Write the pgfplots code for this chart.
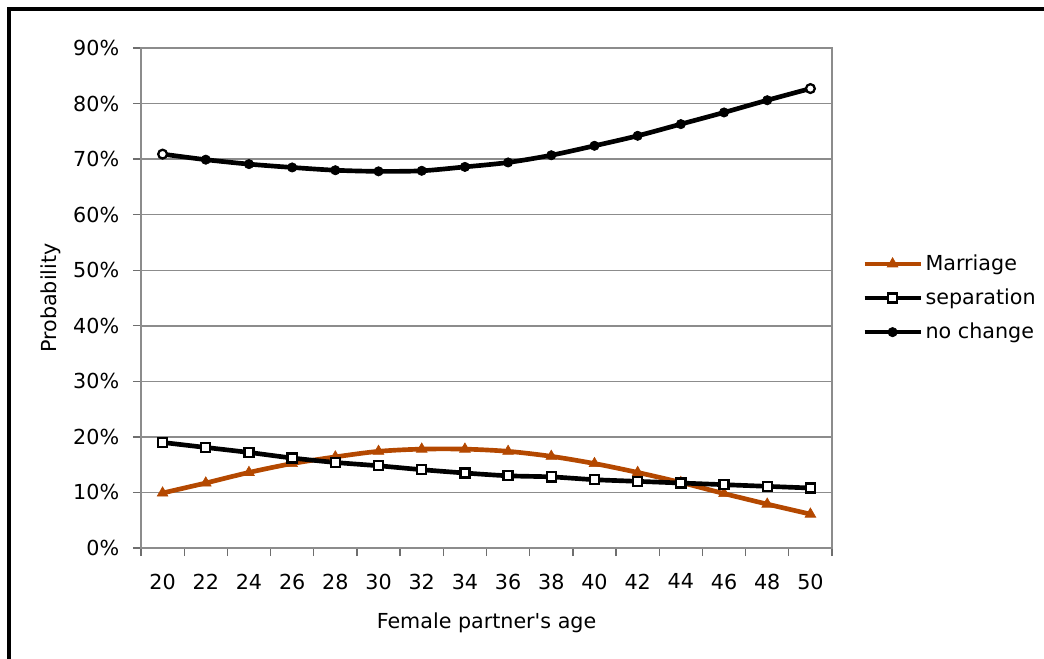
\documentclass[border=0pt]{standalone}
\usepackage{fontspec}
\setmainfont{DejaVu Sans}[Ligatures=TeXOff]
\usepackage{pgfplots}
\pgfplotsset{compat=1.18}
\definecolor{marr}{RGB}{180,72,0}
\definecolor{gridc}{RGB}{140,140,140}
\definecolor{axc}{RGB}{110,110,110}
\newcommand{\fs}{\fontsize{15.5pt}{18pt}\selectfont}
\begin{document}
\fs
\begin{tikzpicture}
\useasboundingbox (-105.75pt,-82.5pt) rectangle (677.25pt,411pt);
\draw[line width=2.4pt] (-99pt,-100pt) -- (-99pt,404.25pt) -- (700pt,404.25pt);
\begin{axis}[
  at={(0,0)}, anchor=south west,
  width=518.25pt, height=375pt, scale only axis,
  xmin=19, xmax=51, ymin=0, ymax=90,
  xtick={20,22,...,50},
  minor xtick={19,21,...,51},
  ytick={0,10,...,90},
  yticklabel={\pgfmathprintnumber{\tick}\%},
  /pgf/number format/assume math mode=true,
  ymajorgrids, grid style={gridc, line width=1.1pt},
  xtick pos=left, ytick pos=left,
  tick align=outside,
  major x tick style={draw=none},
  minor tick length=6pt, major tick length=6pt,
  tick style={axc, line width=1pt},
  axis line style={gridc, line width=1.8pt},
  y tick label style={xshift=-5pt, font=\fs},
  x tick label style={yshift=-8pt, font=\fs},
  xlabel={Female partner's age},
  ylabel={Probability},
  xlabel style={at={(axis description cs:0.5,-0.1493)}, anchor=center, font=\fs},
  ylabel style={at={(axis description cs:-0.1312,0.5)}, anchor=center, rotate=0, font=\fs},
  legend style={draw=none, fill=none, at={(1.0434,0.5)}, anchor=west, inner sep=0pt, row sep=7.5pt, font=\fs},
  legend cell align=left,
  legend image code/.code={\draw[mark repeat=2,mark phase=2,#1] plot coordinates {(0pt,0pt) (21pt,0pt) (42pt,0pt)};},
]
\addplot[marr, line width=3.5pt, smooth, mark=triangle*, mark size=4.6pt, mark options={solid, line width=0.5pt}] coordinates {
(20,9.9) (22,11.7) (24,13.6) (26,15.2) (28,16.4) (30,17.4) (32,17.8) (34,17.8) (36,17.4) (38,16.5) (40,15.2) (42,13.6) (44,11.8) (46,9.8) (48,7.9) (50,6.1)};
\addlegendentry{Marriage}
\addplot[black, line width=3.5pt, smooth, mark=square*, mark size=3.4pt, mark options={solid, fill=white, draw=black, line width=1.7pt}] coordinates {
(20,19.0) (22,18.1) (24,17.2) (26,16.2) (28,15.4) (30,14.8) (32,14.1) (34,13.5) (36,13.0) (38,12.8) (40,12.3) (42,12.0) (44,11.7) (46,11.4) (48,11.1) (50,10.8)};
\addlegendentry{separation}
\addplot[black, line width=3.5pt, smooth, mark=*, mark size=3.5pt, mark options={solid, fill=black, line width=0.5pt}] coordinates {
(20,70.9) (22,69.9) (24,69.1) (26,68.5) (28,68.0) (30,67.8) (32,67.9) (34,68.6) (36,69.4) (38,70.7) (40,72.4) (42,74.2) (44,76.3) (46,78.4) (48,80.6) (50,82.7)};
\addlegendentry{no change}
\addplot[only marks, mark=*, mark size=3.3pt, mark options={fill=white, draw=black, line width=1.7pt}, forget plot] coordinates {(20,70.9) (50,82.7)};
\end{axis}
\end{tikzpicture}
\end{document}
